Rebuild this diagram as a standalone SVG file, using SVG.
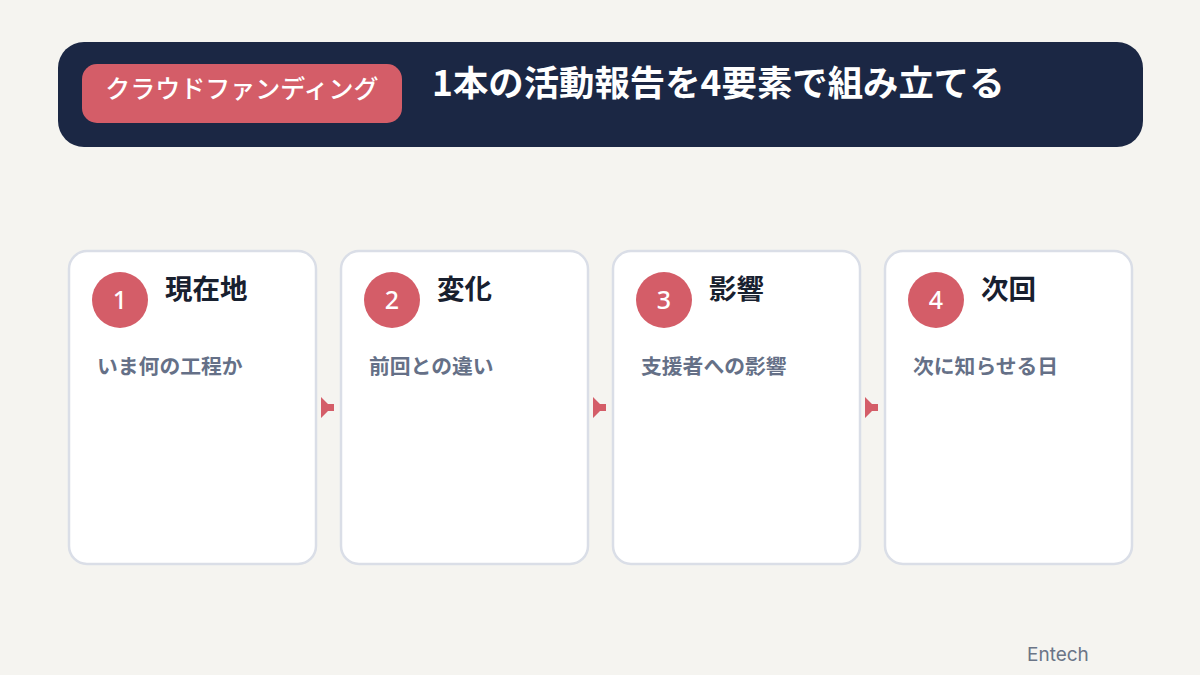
<svg xmlns="http://www.w3.org/2000/svg" width="1200" height="675" viewBox="0 0 1200 675">
<style>
.card{fill:#ffffff;stroke:#dadee7;stroke-width:2.5}
.num{fill:#d45d68}
.numt{font-family:"Noto Sans","Noto Sans CJK JP",sans-serif;font-size:25px;font-weight:500;fill:#ffffff;text-anchor:middle}
.ttl{font-family:"Noto Sans CJK JP",sans-serif;font-size:27.5px;font-weight:700;fill:#18202f}
.sub{font-family:"Noto Sans CJK JP",sans-serif;font-size:20.8px;font-weight:700;fill:#657087}
.arr{fill:#d45d68}
</style>
<rect width="1200" height="675" fill="#f5f4f0"/>
<g id="header">
<rect x="58" y="42" width="1085" height="105" rx="26" fill="#1b2744"/>
<rect x="82" y="64" width="320" height="59" rx="15" fill="#d45d68"/>
<text x="242" y="98" font-family="'Noto Sans CJK JP',sans-serif" font-size="25" font-weight="500" fill="#ffffff" text-anchor="middle">クラウドファンディング</text>
<text x="432" y="96" font-family="'Noto Sans CJK JP',sans-serif" font-size="35.4" font-weight="700" fill="#ffffff">1本の活動報告を4要素で組み立てる</text>
</g>
<g id="card1">
<rect class="card" x="69" y="251" width="247" height="313" rx="18"/>
<circle class="num" cx="120" cy="300" r="28"/>
<text class="numt" x="120" y="309">1</text>
<text class="ttl" x="165" y="299">現在地</text>
<text class="sub" x="97" y="374">いま何の工程か</text>
</g>
<g id="card2">
<rect class="card" x="341" y="251" width="247" height="313" rx="18"/>
<circle class="num" cx="392" cy="300" r="28"/>
<text class="numt" x="392" y="309">2</text>
<text class="ttl" x="437" y="299">変化</text>
<text class="sub" x="369" y="374">前回との違い</text>
</g>
<g id="card3">
<rect class="card" x="613" y="251" width="247" height="313" rx="18"/>
<circle class="num" cx="664" cy="300" r="28"/>
<text class="numt" x="664" y="309">3</text>
<text class="ttl" x="709" y="299">影響</text>
<text class="sub" x="641" y="374">支援者への影響</text>
</g>
<g id="card4">
<rect class="card" x="885" y="251" width="247" height="313" rx="18"/>
<circle class="num" cx="936" cy="300" r="28"/>
<text class="numt" x="936" y="309">4</text>
<text class="ttl" x="981" y="299">次回</text>
<text class="sub" x="913" y="374">次に知らせる日</text>
</g>
<g id="connectors">
<path class="arr" d="M321,397 L328,404 L334,404 L334,411 L328,411 L321,418 Z"/>
<path class="arr" d="M593,397 L600,404 L606,404 L606,411 L600,411 L593,418 Z"/>
<path class="arr" d="M865,397 L872,404 L878,404 L878,411 L872,411 L865,418 Z"/>
</g>
<text x="1027" y="661" font-family="Inter,'Noto Sans',sans-serif" font-size="19" fill="#6b7587">Entech</text>
</svg>
